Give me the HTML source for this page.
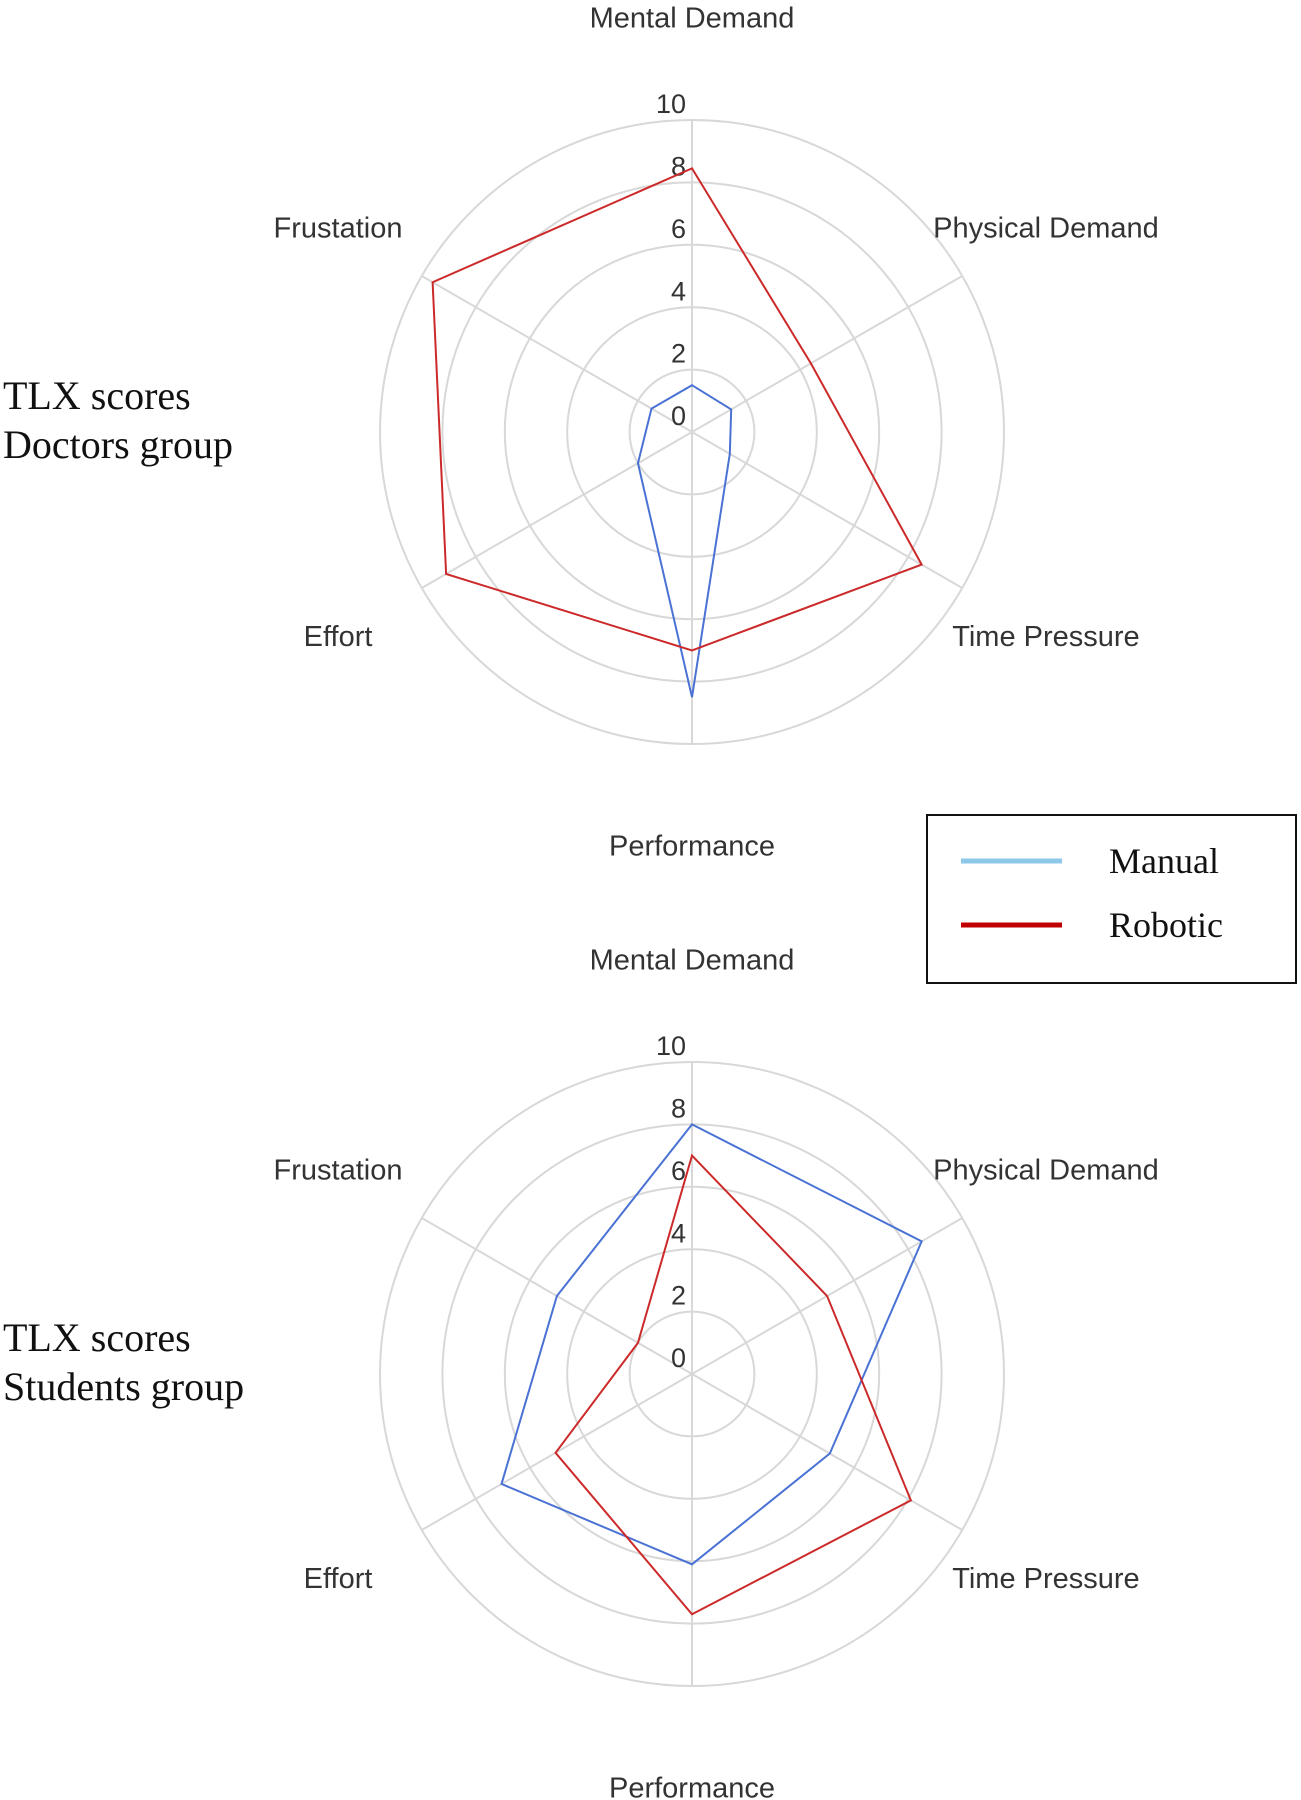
<!DOCTYPE html>
<html><head><meta charset="utf-8">
<style>
html,body{margin:0;padding:0;background:#fff;}
svg{display:block;}
</style></head>
<body>
<svg id="chart" width="1301" height="1800" viewBox="0 0 1301 1800" xmlns="http://www.w3.org/2000/svg">
  <g font-family="Liberation Serif, serif" font-size="40" fill="#111">
    <text x="3" y="409">TLX scores</text>
    <text x="3" y="458">Doctors group</text>
  </g>
  <g font-family="Liberation Serif, serif" font-size="40" fill="#111">
    <text x="3" y="1351">TLX scores</text>
    <text x="3" y="1400">Students group</text>
  </g>
  <g>
    <rect x="927" y="815" width="369" height="168" fill="#fff" stroke="#111" stroke-width="2"/>
    <line x1="961" y1="861" x2="1062" y2="861" stroke="#8ec8e8" stroke-width="5"/>
    <text x="1109" y="873" font-family="Liberation Serif, serif" font-size="36" fill="#111">Manual</text>
    <line x1="961" y1="925" x2="1062" y2="925" stroke="#c00000" stroke-width="5"/>
    <text x="1109" y="937" font-family="Liberation Serif, serif" font-size="36" fill="#111">Robotic</text>
  </g>
  <g id="top"></g>
  <g id="bottom"></g>
</svg>
<script>
const axes = ["Mental Demand","Physical Demand","Time Pressure","Performance","Effort","Frustation"];
const ticks = [0,2,4,6,8,10];
const doctorsManual = [1.5,1.45,1.4,8.5,2.0,1.5];
const doctorsRobotic = [8.45,4.4,8.5,7.0,9.1,9.6];
const studentsManual = [8.0,8.5,5.1,6.1,7.05,5.0];
const studentsRobotic = [7.0,5.0,8.1,7.7,5.05,2.0];

const NS = "http://www.w3.org/2000/svg";
const R = 312, MAXV = 10;
function mk(tag, attrs, parent){
  const e = document.createElementNS(NS, tag);
  for (const k in attrs) e.setAttribute(k, attrs[k]);
  parent.appendChild(e);
  return e;
}
function ang(i){ return -Math.PI/2 + i*2*Math.PI/axes.length; }
function pt(cx, cy, i, v){ const r = v/MAXV*R; return [cx + r*Math.cos(ang(i)), cy + r*Math.sin(ang(i))]; }

function radar(g, cx, cy, manual, robotic){
  for (let k = 1; k < ticks.length; k++){
    const c = mk("circle", {cx:cx, cy:cy, r:ticks[k]/MAXV*R, fill:"none", stroke:"#d8d8d8", "stroke-width":2}, g);
    
    
  }
  axes.forEach((a, i) => {
    const p = pt(cx, cy, i, MAXV);
    const l = mk("line", {x1:cx, y1:cy, x2:p[0], y2:p[1], stroke:"#d8d8d8", "stroke-width":2}, g);
    
    
    const lp = pt(cx, cy, i, 13.1);
    let x = lp[0], y = lp[1] + 2;
    if (i === 0) { y = cy - 412; }
    if (i === 3) { y = cy + 416; }
    const t = mk("text", {x:x, y:y, "text-anchor":"middle", "dominant-baseline":"middle",
      "font-family":"Liberation Sans, sans-serif", "font-size":29, fill:"#333"}, g);
    t.textContent = a;
    
    
  });
  ticks.forEach(v => {
    const t = mk("text", {x:cx-6, y:cy - v/MAXV*R - 14, "text-anchor":"end", "dominant-baseline":"middle",
      "font-family":"Liberation Sans, sans-serif", "font-size":27, fill:"#333"}, g);
    t.textContent = v;
    
    
  });
  [[manual, "#4a72d4", "series-manual"], [robotic, "#cc2a2a", "series-robotic"]].forEach(s => {
    const pts = s[0].map((v, i) => pt(cx, cy, i, v).join(",")).join(" ");
    const p = mk("polygon", {points:pts, fill:"none", stroke:s[1], "stroke-width":2}, g);
    
    
  });
}
radar(document.getElementById("top"), 692, 432, doctorsManual, doctorsRobotic);
radar(document.getElementById("bottom"), 692, 1374, studentsManual, studentsRobotic);
</script>
</body></html>
